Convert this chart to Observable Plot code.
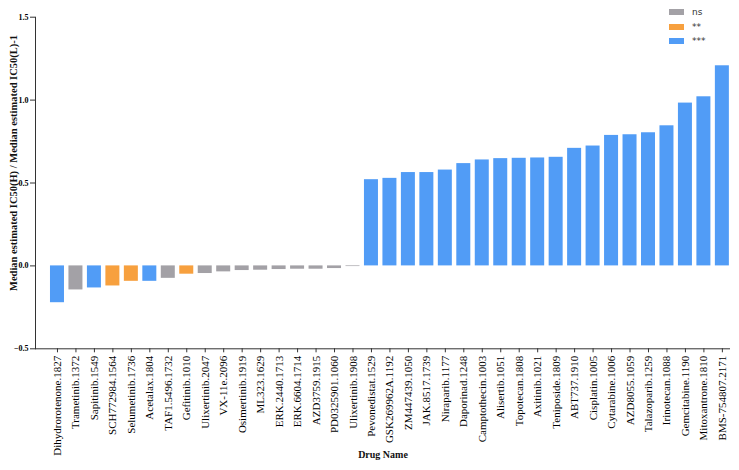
<!DOCTYPE html>
<html>
<head>
<meta charset="utf-8">
<script src="https://cdn.jsdelivr.net/npm/d3@7"></script>
<script src="https://cdn.jsdelivr.net/npm/@observablehq/plot@0.6"></script>
<style>
  html, body { margin: 0; padding: 0; background: #fff; }
  #wrap { position: relative; width: 739px; height: 470px; }
  #legend { position: absolute; left: 669px; top: 5px; font-family: "DejaVu Sans", sans-serif; font-size: 9px; color: #333; }
  #legend .row { display: flex; align-items: center; height: 14.5px; }
  #legend .sw { width: 15px; height: 6px; margin-right: 8px; }
</style>
</head>
<body>
<div id="wrap"><div id="legend"></div></div>
<script>
const drugs = [
  "Dihydrorotenone.1827","Trametinib.1372","Sapitinib.1549","SCH772984.1564","Selumetinib.1736",
  "Acetalax.1804","TAF1.5496.1732","Gefitinib.1010","Ulixertinib.2047","VX-11e.2096",
  "Osimertinib.1919","ML323.1629","ERK.2440.1713","ERK.6604.1714","AZD3759.1915",
  "PD0325901.1060","Ulixertinib.1908","Pevonedistat.1529","GSK269962A.1192","ZM447439.1050",
  "JAK.8517.1739","Niraparib.1177","Daporinad.1248","Camptothecin.1003","Alisertib.1051",
  "Topotecan.1808","Axitinib.1021","Teniposide.1809","ABT737.1910","Cisplatin.1005",
  "Cytarabine.1006","AZD8055.1059","Talazoparib.1259","Irinotecan.1088","Gemcitabine.1190",
  "Mitoxantrone.1810","BMS-754807.2171"
];
const ratios = [
  -0.222,-0.145,-0.133,-0.121,-0.093,
  -0.093,-0.075,-0.050,-0.046,-0.036,
  -0.028,-0.026,-0.022,-0.020,-0.020,
  -0.016,-0.004,0.520,0.528,0.563,
  0.563,0.578,0.617,0.639,0.647,
  0.649,0.651,0.655,0.709,0.723,
  0.787,0.791,0.803,0.845,0.982,
  1.020,1.207
];
const signif = [
  "***","ns","***","**","**",
  "***","ns","**","ns","ns",
  "ns","ns","ns","ns","ns",
  "ns","ns","***","***","***",
  "***","***","***","***","***",
  "***","***","***","***","***",
  "***","***","***","***","***",
  "***","***"
];
const levels = ["ns","**","***"];
const levelColors = ["#a3a1a6","#f7a03e","#519cf6"];
const yTicks = [-0.5, 0, 0.5, 1.0, 1.5];

const data = drugs.map((d, i) => ({drug: d, value: ratios[i], sig: signif[i]}));
const serif = "Liberation Serif, Times New Roman, serif";

const chart = Plot.plot({
  width: 739,
  height: 470,
  marginTop: 16.7,
  marginBottom: 121.7,
  marginLeft: 35,
  marginRight: 9,
  style: {background: "#fff", fontFamily: serif},
  x: {type: "band", domain: drugs, paddingInner: 0.242, paddingOuter: 0.436, align: 0.93, round: false},
  y: {domain: [-0.5, 1.5]},
  color: {domain: levels, range: levelColors},
  marks: [
    Plot.barY(data, {x: "drug", y: "value", fill: "sig", inset: 0}),
    Plot.ruleY([-0.5], {stroke: "#333", strokeWidth: 1}),
    Plot.frame({anchor: "left", stroke: "#333", strokeWidth: 1}),
    Plot.axisY({ticks: yTicks, tickFormat: d3.format(".1f"), tickSize: 5, tickPadding: 2,
      fontSize: 8, fontWeight: "bold", fontFamily: serif, label: null, stroke: "#333"}),
    Plot.axisX({tickSize: 4, tickPadding: 3, tickRotate: -90, fontSize: 11, fontFamily: serif, label: null, stroke: "#333"}),
    Plot.text(["Median estimated IC50(H) / Median estimated IC50(L)-1"], {
      frameAnchor: "left", textAnchor: "middle", dx: -22, dy: -20, rotate: -90, fontSize: 10.5, fontWeight: "bold", fontFamily: serif, fill: "#111"}),
    Plot.text(["Drug Name"], {frameAnchor: "bottom", dy: 109, fontSize: 10, fontWeight: "bold", fontFamily: serif, fill: "#111"})
  ]
});
document.getElementById("wrap").prepend(chart);

const legend = d3.select("#legend");
levels.forEach((l, i) => {
  const row = legend.append("div").attr("class", "row");
  row.append("div").attr("class", "sw").style("background", levelColors[i]);
  row.append("span").text(l);
});
</script>
</body>
</html>
